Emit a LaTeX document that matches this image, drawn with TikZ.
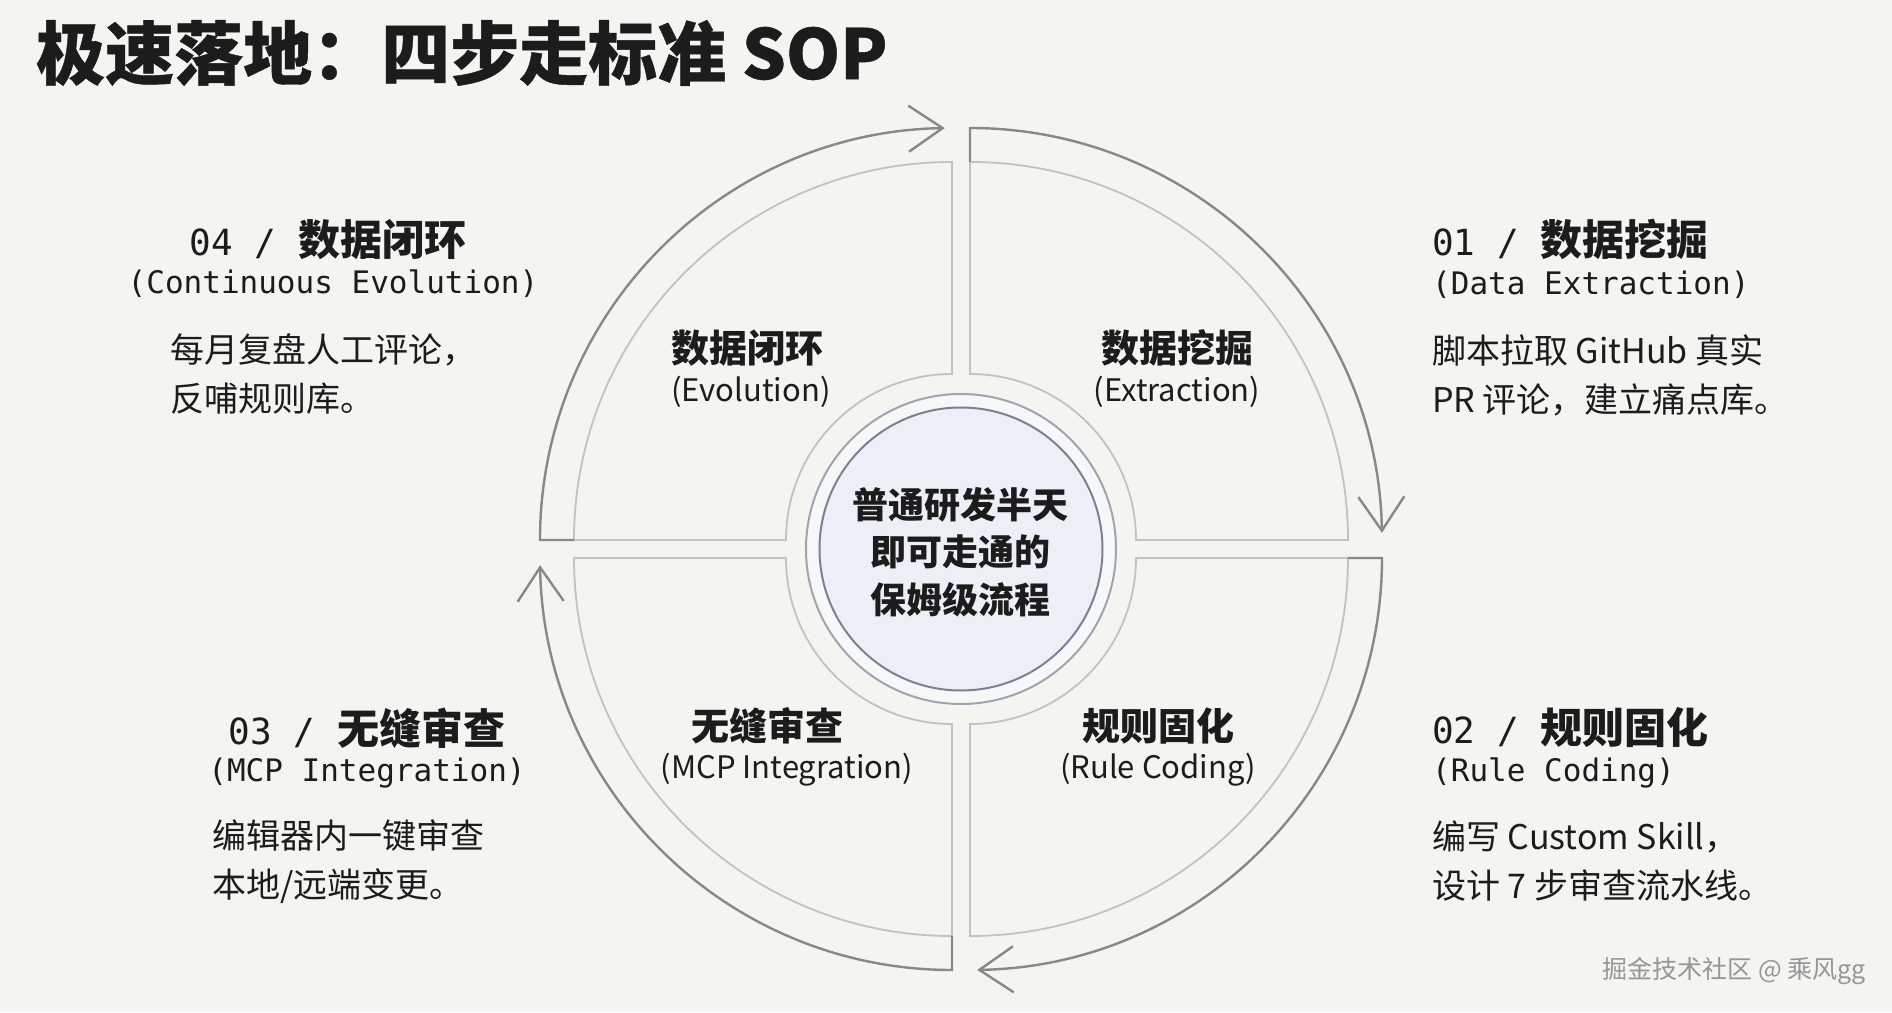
\documentclass[tikz,border=0pt]{standalone}
\usepackage{fontspec}
\setmainfont{Noto Sans CJK SC}
\newfontfamily\monofont{DejaVu Sans Mono}
\newfontfamily\titlefont{Noto Sans CJK SC}[BoldFeatures={FakeBold=0.6}]
\usetikzlibrary{arrows.meta,positioning}
\definecolor{bgpaper}{RGB}{244,244,240}
\definecolor{ringgray}{RGB}{194,194,192}
\definecolor{arrowgray}{RGB}{136,136,136}
\definecolor{hubline}{RGB}{160,164,172}
\definecolor{hubinner}{RGB}{120,130,146}
\definecolor{hubring}{RGB}{246,247,249}
\definecolor{hubfill}{RGB}{236,240,246}
\definecolor{inkdark}{RGB}{28,28,28}
\definecolor{markgray}{RGB}{150,150,150}

\begin{document}
\begin{tikzpicture}[x=1pt, y=1pt, >={Straight Barb[length=34pt,width=46pt]},
    every node/.style={inner sep=0pt, text=inkdark},
    sector/.style={draw=ringgray, line width=1.8pt},
    cyclearc/.style={draw=arrowgray, line width=2.4pt, ->},
    title/.style={font=\titlefont\fontsize{69pt}{74pt}\selectfont\bfseries},
    stephead/.style={font=\fontsize{42pt}{48pt}\selectfont\bfseries},
    stepsub/.style={font=\monofont\fontsize{31pt}{36pt}\selectfont},
    stepdesc/.style={align=left, font=\fontsize{34pt}{49pt}\selectfont},
    seclabel/.style={font=\fontsize{38pt}{44pt}\selectfont\bfseries},
    secsub/.style={font=\fontsize{31pt}{36pt}\selectfont},
    hubtext/.style={align=center, font=\fontsize{36pt}{47.5pt}\selectfont\bfseries}]

    % paper
    \fill[bgpaper] (-961,-463) rectangle (931,549);

    % four sectors round the hub
    \draw[sector] (-9,175) -- (-9,387) arc[start angle=90, end angle=180, radius=378pt] -- (-175,9) arc[start angle=180, end angle=90, radius=166pt] -- cycle;
    \draw[sector] (9,175) -- (9,387) arc[start angle=90, end angle=0, radius=378pt] -- (175,9) arc[start angle=0, end angle=90, radius=166pt] -- cycle;
    \draw[sector] (175,-9) -- (387,-9) arc[start angle=0, end angle=-90, radius=378pt] -- (9,-175) arc[start angle=-90, end angle=0, radius=166pt] -- cycle;
    \draw[sector] (-9,-175) -- (-9,-387) arc[start angle=-90, end angle=-180, radius=378pt] -- (-175,-9) arc[start angle=180, end angle=270, radius=166pt] -- cycle;

    % cycle arrows
    \draw[cyclearc] (-387,9) -- (-421,9) arc[start angle=180, end angle=91, radius=412pt];
    \draw[cyclearc] (9,387) -- (9,421) arc[start angle=90, end angle=1, radius=412pt];
    \draw[cyclearc] (387,-9) -- (421,-9) arc[start angle=0, end angle=-89, radius=412pt];
    \draw[cyclearc] (-9,-387) -- (-9,-421) arc[start angle=-90, end angle=-179, radius=412pt];

    % hub
    \node[circle, draw=hubline, line width=2pt, fill=hubring, minimum size=310pt] (hubring) at (0,0) {};
    \node[circle, draw=hubinner, line width=2pt, fill=hubfill, minimum size=283pt] (hubcore) at (0,0) {};
    \node[hubtext] (hub) at (0,-3) {普通研发半天\\即可走通的\\保姆级流程};

    % sector labels
    \node[seclabel] (lab1) at (216,201) {数据挖掘};
    \node[secsub]   (sub1) [below=44pt of lab1.center, anchor=center] {(Extraction)};
    \node[seclabel] (lab2) at (197,-177) {规则固化};
    \node[secsub]   (sub2) [below=44pt of lab2.center, anchor=center] {(Rule Coding)};
    \node[seclabel] (lab3) at (-193,-177) {无缝审查};
    \node[secsub]   (sub3) [below=44pt of lab3.center, anchor=center, xshift=19pt] {(MCP Integration)};
    \node[seclabel] (lab4) at (-213,201) {数据闭环};
    \node[secsub]   (sub4) [below=44pt of lab4.center, anchor=center, xshift=3pt] {(Evolution)};

    % title
    \node[title, anchor=west] (title) at (-925,496) {极速落地：四步走标准 SOP};

    % step 01
    \node[stephead, anchor=west] (h01) at (471,310) {{\monofont\mdseries\fontsize{36pt}{40pt}\selectfont 01 / }数据挖掘};
    \node[stepsub] (p01) [below=46pt of h01.west, anchor=west] {(Data Extraction)};
    \node[stepdesc, anchor=west] (d01) at (471,174) {脚本拉取 GitHub 真实\\PR 评论，建立痛点库。};

    % step 02
    \node[stephead, anchor=west] (h02) at (471,-178) {{\monofont\mdseries\fontsize{36pt}{40pt}\selectfont 02 / }规则固化};
    \node[stepsub] (p02) [below=46pt of h02.west, anchor=west] {(Rule Coding)};
    \node[stepdesc, anchor=west] (d02) at (471,-312) {编写 Custom Skill，\\设计 7 步审查流水线。};

    % step 03
    \node[stephead] (h03) at (-594,-179) {{\monofont\mdseries\fontsize{36pt}{40pt}\selectfont 03 / }无缝审查};
    \node[stepsub] (p03) [below=45pt of h03.center, anchor=center] {(MCP Integration)};
    \node[stepdesc, anchor=west] (d03) at (-749,-313) {编辑器内一键审查\\本地/远端变更。};

    % step 04
    \node[stephead] (h04) at (-633,309) {{\monofont\mdseries\fontsize{36pt}{40pt}\selectfont 04 / }数据闭环};
    \node[stepsub] (p04) [below=44pt of h04.center, anchor=center, xshift=5pt] {(Continuous Evolution)};
    \node[stepdesc, anchor=west] (d04) at (-791,175) {每月复盘人工评论，\\反哺规则库。};

    % watermark
    \node[text=markgray, font=\fontsize{25pt}{30pt}\selectfont] (mark) at (773,-422) {掘金技术社区 @ 乘风gg};
\end{tikzpicture}
\end{document}
